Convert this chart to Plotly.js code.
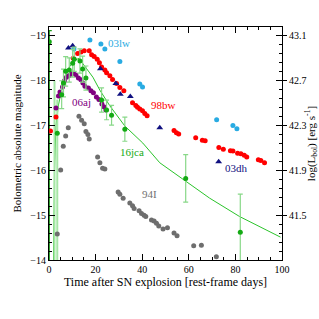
<!DOCTYPE html>
<html>
<head>
<meta charset="utf-8">
<script src="https://cdn.plot.ly/plotly-3.0.1.min.js"></script>
<style>html,body{margin:0;padding:0;background:#fff;}#chart{width:319px;height:319px;}</style>
</head>
<body>
<div id="chart"></div>
<script>
// SN 1994I (gray)
const day94I = [3.55,5.01,6.12,7.15,8.27,12.85,14.00,15.12,15.85,16.70,17.26,20.86,21.84,23.00,23.98,29.68,30.41,31.82,34.69,35.85,36.53,38.67,39.70,40.81,41.54,43.98,45.10,46.12,47.11,48.95,50.84,53.66,54.95,62.10,65.40,71.82];
const mag94I = [-14.58,-16.01,-16.54,-16.77,-16.95,-17.21,-17.12,-17.04,-16.87,-16.80,-16.70,-16.30,-16.17,-16.05,-16.03,-15.52,-15.47,-15.38,-15.27,-15.21,-15.15,-15.10,-15.04,-15.00,-14.97,-14.89,-14.87,-14.82,-14.76,-14.69,-14.72,-14.60,-14.54,-14.32,-14.33,-14.07];
// SN 1998bw (red)
const day98bw = [0.64,3.0,10.4,12.29,13.70,15.12,17.26,18.29,19.40,20.69,21.63,22.57,23.98,24.71,26.12,27.28,28.99,30.41,32.12,35.85,37.26,37.99,38.97,40.13,41.11,42.10,53.66,54.69,55.67,62.96,65.82,67.02,72.89,74.82,77.86,78.93,80.94,82.36,83.81,84.88,89.85,90.92,92.5];
const mag98bw = [-16.88,-17.19,-18.50,-18.61,-18.64,-18.67,-18.67,-18.58,-18.54,-18.48,-18.40,-18.31,-18.24,-18.18,-18.11,-18.03,-17.94,-17.85,-17.78,-17.51,-17.45,-17.41,-17.37,-17.33,-17.27,-17.22,-16.89,-16.84,-16.81,-16.73,-16.67,-16.66,-16.51,-16.47,-16.44,-16.43,-16.38,-16.37,-16.34,-16.30,-16.24,-16.22,-16.17];
// SN 2003lw (light blue)
const day03lw = [10.7,17.56,22.27,23.98,30.41,38.97,40.13,71.95,78.93,80.64];
const mag03lw = [-18.71,-18.91,-18.82,-18.71,-18.43,-17.93,-17.86,-17.13,-17.00,-16.93];
// SN 2003dh (navy triangles)
const day03dh = [8.35,10.15,22.06,28.69,30.62,34.90,47.54,72.81];
const mag03dh = [-18.73,-18.78,-18.27,-17.94,-17.70,-17.65,-16.95,-16.19];
// SN 2006aj (purple)
const day06aj = [3.0,4.07,4.71,5.78,6.64,7.49,8.57,9.42,10.49,11.56,12.63,13.70,14.56,15.42,16.92,17.99,19.06,20.34,21.41,22.70,23.55,24.41];
const mag06aj = [-17.39,-17.66,-17.75,-17.86,-18.00,-18.08,-18.11,-18.15,-18.17,-18.13,-18.06,-18.02,-17.95,-17.88,-17.84,-17.78,-17.73,-17.64,-17.58,-17.48,-17.42,-17.35];
// SN 2016jca (green) with error bars
const day16jca = [5.44,6.21,7.15,8.69,10.15,10.84,13.28,14.43,15.85,22.57,24.71,26.85,32.55,58.67,82.10];
const mag16jca = [-17.69,-17.95,-18.21,-18.24,-18.39,-18.48,-18.44,-18.26,-18.06,-17.57,-17.35,-17.23,-16.92,-15.82,-14.62];
const err16jca = [0.31,0.31,0.33,0.27,0.31,0.27,0.27,0.29,0.27,0.27,0.22,0.22,0.27,0.53,0.85];
const day16jcaFirst = [0.13];
const mag16jcaFirst = [-18.87];
const errUpFirst = [0.25];
const errDownFirst = [5.0];
const day16jcaEarly = [2.36,3.55];
const mag16jcaEarly = [-13.5,-16.83];
const errUpEarly = [4.5,0.75];
const errDownEarly = [0.5,3.0];
// 16jca model curve
const dayModel = [1.93,2.36,3.0,4.07,5.14,6.85,8.99,11.13,12.85,14.56,16.70,18.84,21.84,26.12,32.55,40.26,47.54,51.82,58.67,68.95,81.80,88.95,99.36];
const magModel = [-14.0,-16.01,-17.01,-17.46,-17.73,-18.06,-18.33,-18.46,-18.50,-18.38,-18.24,-18.08,-17.79,-17.44,-16.99,-16.61,-16.17,-16.01,-15.75,-15.38,-14.97,-14.78,-14.51];
// labels
const labelText = ['03lw','98bw','06aj','16jca','94I','03dh'];
const labelDay = [30.0,49.3,14.1,35.5,43.3,80.5];
const labelMag = [-18.84,-17.46,-17.53,-16.41,-15.47,-16.05];
const labelColor = ['#29abe2','#ff0000','#800080','#14aa14','#707070','#101080'];
const logLTicks = [41.5,41.9,42.3,42.7,43.1];

const FONT = 'Liberation Serif, Times New Roman, serif';
const green = '#14aa14';

const traces = [
  {x: dayModel, y: magModel, mode:'lines', line:{color:'#2bc42b', width:1}, hoverinfo:'skip'},
  {x: day16jcaEarly, y: mag16jcaEarly, mode:'markers', marker:{color:green, size:5},
   error_y:{type:'data', symmetric:false, array:errDownEarly, arrayminus:errUpEarly, color:'#a6e6a6', thickness:2, width:0}},
  {x: day16jcaFirst, y: mag16jcaFirst, mode:'markers', marker:{color:green, size:5},
   error_y:{type:'data', symmetric:false, array:errDownFirst, arrayminus:errUpFirst, color:'#1c9c1c', thickness:1.2, width:2.5}},
  {x: day94I, y: mag94I, mode:'markers', marker:{color:'#6e6e6e', size:5}},
  {x: day98bw, y: mag98bw, mode:'markers', marker:{color:'#ff0000', size:5}},
  {x: day03lw, y: mag03lw, mode:'markers', marker:{color:'#29abe2', size:5}},
  {x: day06aj, y: mag06aj, mode:'markers', marker:{color:'#800080', size:5}},
  {x: day03dh, y: mag03dh, mode:'markers', marker:{color:'#101080', size:6, symbol:'triangle-up'}},
  {x: day16jca, y: mag16jca, mode:'markers', marker:{color:green, size:5},
   error_y:{type:'data', array:err16jca, color:'#88d888', thickness:1.2, width:2.5}},
  {x: [0], y: [42], yaxis:'y2', mode:'markers', marker:{opacity:0}, hoverinfo:'skip'}
];

const annotations = labelText.map((t,i)=>({
  x: labelDay[i], y: labelMag[i], xref:'x', yref:'y', text: t, showarrow:false,
  font:{family:FONT, size:11, color:labelColor[i]}, xanchor:'center', yanchor:'middle'
}));

const layout = {
  width:319, height:319,
  margin:{l:49, r:37, t:27, b:59},
  paper_bgcolor:'#fff', plot_bgcolor:'#fff',
  showlegend:false,
  font:{family:FONT, size:10, color:'#000'},
  xaxis:{range:[0,100], dtick:20, tick0:0, ticks:'inside', ticklen:6, tickcolor:'#000',
    showline:true, linecolor:'#000', linewidth:1, mirror:'ticks', showgrid:false, zeroline:false,
    minor:{dtick:5, ticklen:3, ticks:'inside', tickcolor:'#000'},
    tickfont:{family:FONT, size:10},
    title:{text:'Time after SN explosion [rest-frame days]', font:{family:FONT, size:12}, standoff:2}},
  yaxis:{range:[-14,-19.2], dtick:1, tick0:-14, ticks:'inside', ticklen:6, tickcolor:'#000',
    showline:true, linecolor:'#000', linewidth:1, mirror:'ticks', showgrid:false, zeroline:false,
    minor:{dtick:0.2, ticklen:3, ticks:'inside', tickcolor:'#000'},
    tickfont:{family:FONT, size:10},
    title:{text:'Bolometric absolute magnitude', font:{family:FONT, size:11}, standoff:6}},
  yaxis2:{overlaying:'y', side:'right', range:[41.1,43.18], tickvals:logLTicks,
    ticktext: logLTicks.map(v=>v.toFixed(1)),
    ticks:'outside', ticklen:4, tickcolor:'#000', showline:false, showgrid:false, zeroline:false,
    tickfont:{family:FONT, size:10},
    title:{text:'log(L<sub>bol</sub>) [erg s<sup>-1</sup>]', font:{family:FONT, size:11}, standoff:4}},
  annotations: annotations
};

Plotly.newPlot('chart', traces, layout, {staticPlot:true, displayModeBar:false});
</script>
</body>
</html>
